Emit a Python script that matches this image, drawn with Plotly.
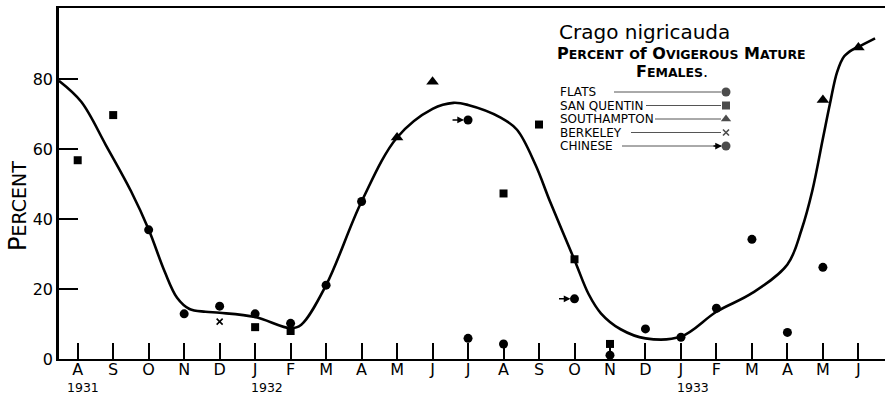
import plotly.graph_objects as go

# ---------------- data ----------------
months = ["A", "S", "O", "N", "D", "J", "F", "M", "A", "M", "J", "J",
          "A", "S", "O", "N", "D", "J", "F", "M", "A", "M", "J"]
month_idx = list(range(len(months)))
year_pos = [0, 5, 17]
year_text = ["1931", "1932", "1933"]

flats_x = [2, 3, 4, 5, 6, 7, 8, 11, 12, 15, 16, 17, 18, 19, 20, 21]
flats_y = [36.9, 12.9, 15.1, 12.9, 10.2, 21.1, 45.0, 5.9, 4.3, 1.1, 8.6, 6.2, 14.5, 34.2, 7.6, 26.2]

sanq_x = [0, 1, 5, 6, 12, 13, 14, 15]
sanq_y = [56.8, 69.7, 9.1, 8.0, 47.3, 67.0, 28.5, 4.3]

south_x = [9, 10, 21, 22]
south_y = [63.3, 79.2, 74.0, 89.0]

berk_x = [4]
berk_y = [10.7]

chin_x = [11, 14]
chin_y = [68.3, 17.2]

# hand-drawn fitted curve (month index, percent)
curve_x = [-0.53, 0.1, 0.8, 1.5, 2.0, 2.45, 2.8, 3.15, 3.6, 4.0, 5.0, 6.0, 6.3, 7.0, 8.0, 9.0,
           10.0, 10.59, 11.0, 11.92, 12.38, 12.9, 13.31, 14.0, 14.4, 14.75, 15.3, 16.0, 17.0,
           18.0, 19.0, 20.0, 20.4, 20.7, 21.0, 21.2, 21.4, 21.6, 21.85, 22.0, 22.47]
curve_y = [79.5, 73.5, 61.0, 48.0, 37.0, 25.0, 17.5, 14.3, 13.5, 13.2, 12.0, 8.8, 9.8, 21.1, 45.0, 63.3,
           71.5, 73.2, 72.6, 69.0, 65.5, 55.5, 45.0, 28.3, 18.5, 13.0, 8.5, 5.9, 6.4,
           13.5, 18.8, 27.0, 37.0, 48.0, 63.0, 73.0, 82.0, 86.5, 88.5, 89.2, 91.6]

legend_names = ["FLATS", "SAN QUENTIN", "SOUTHAMPTON", "BERKELEY", "CHINESE"]

# ---------------- figure ----------------
FONT = "DejaVu Sans"
W, H = 885, 395
L, R, T, B = 59, 0, 8, 36

fig = go.Figure()

fig.add_trace(go.Scatter(x=curve_x, y=curve_y, mode="lines",
                         line=dict(color="black", width=2.6, shape="spline", smoothing=1.0),
                         hoverinfo="skip", cliponaxis=False))

fig.add_trace(go.Scatter(x=flats_x, y=flats_y, mode="markers", name="FLATS",
                         marker=dict(symbol="circle", size=9, color="black"), cliponaxis=False))
fig.add_trace(go.Scatter(x=sanq_x, y=sanq_y, mode="markers", name="SAN QUENTIN",
                         marker=dict(symbol="square", size=8, color="black"), cliponaxis=False))
fig.add_trace(go.Scatter(x=south_x, y=south_y, mode="markers", name="SOUTHAMPTON",
                         marker=dict(symbol="triangle-up", size=11, color="black"), cliponaxis=False))
fig.add_trace(go.Scatter(x=berk_x, y=berk_y, mode="markers", name="BERKELEY",
                         marker=dict(symbol="x-thin", size=6, color="black",
                                     line=dict(color="black", width=1.6)), cliponaxis=False))
fig.add_trace(go.Scatter(x=chin_x, y=chin_y, mode="markers", name="CHINESE",
                         marker=dict(symbol="circle", size=9, color="black"), cliponaxis=False))

annotations = []
for cx, cy in zip(chin_x, chin_y):
    annotations.append(dict(x=cx, y=cy, xref="x", yref="y", ax=-17, ay=0, text="",
                            showarrow=True, arrowhead=2, arrowsize=0.9, arrowwidth=1.5,
                            arrowcolor="black", standoff=4))

for yp, yt in zip(year_pos, year_text):
    annotations.append(dict(x=yp, y=0, xref="x", yref="paper", text=yt, showarrow=False,
                            yanchor="middle", yshift=-28, xshift=12 if yp else 5,
                            borderpad=0,
                            font=dict(family=FONT, size=12.5, color="black")))

# y axis title
annotations.append(dict(x=(18 - L) / (W - L - R), y=(H - B - 206) / (H - B - T),
                        xref="paper", yref="paper", xanchor="center", yanchor="middle",
                        text="P<span style='font-size:19px'>ERCENT</span>",
                        textangle=-90, showarrow=False,
                        font=dict(family=FONT, size=24, color="black")))

# title block (overlay pixel axes)
annotations.append(dict(x=644, y=32, xref="x2", yref="y2", text="Crago nigricauda",
                        showarrow=False, borderpad=0,
                        font=dict(family=FONT, size=20, color="black")))
sc = "<span style='font-size:12.5px'>%s</span>"
line2 = "P" + sc % "ERCENT" + " " + sc % "O" + "f " + "O" + sc % "VIGEROUS" + " M" + sc % "ATURE"
annotations.append(dict(x=681, y=53, xref="x2", yref="y2", text="<b>" + line2 + "</b>",
                        showarrow=False, borderpad=0,
                        font=dict(family=FONT, size=16, color="black")))
annotations.append(dict(x=672, y=71, xref="x2", yref="y2",
                        text="<b>F" + sc % "EMALES" + "</b>.",
                        showarrow=False, borderpad=0,
                        font=dict(family=FONT, size=16, color="black")))

# legend rows
leg_y = [92, 105.5, 119, 132.5, 146]
leg_line_start = [614, 646, 655, 631, 622]
leg_symbols = ["circle", "square", "triangle-up", "x-thin", "circle"]
leg_sizes = [9, 8, 9, 6, 9]
shapes = []
for name, ly, ls in zip(legend_names, leg_y, leg_line_start):
    annotations.append(dict(x=559, y=ly, xref="x2", yref="y2", text=name, xanchor="left",
                            showarrow=False, borderpad=0,
                            font=dict(family=FONT, size=12, color="black")))
    shapes.append(dict(type="line", xref="x2", yref="y2", x0=ls, x1=721, y0=ly, y1=ly,
                       line=dict(color="#555", width=1)))
fig.add_trace(go.Scatter(x=[726] * 5, y=leg_y, xaxis="x2", yaxis="y2", mode="markers",
                         marker=dict(symbol=leg_symbols, size=leg_sizes, color="black",
                                     line=dict(color="black", width=[0, 0, 0, 1.6, 0])),
                         hoverinfo="skip", cliponaxis=False))
annotations.append(dict(x=726, y=leg_y[4], xref="x2", yref="y2", ax=-14, ay=0, text="",
                        showarrow=True, arrowhead=2, arrowsize=0.9, arrowwidth=1.5,
                        arrowcolor="black", standoff=4))

fig.update_layout(
    width=W, height=H,
    margin=dict(l=L, r=R, t=T, b=B),
    paper_bgcolor="white", plot_bgcolor="white",
    showlegend=False,
    xaxis=dict(range=[-0.527, 22.75], tickvals=month_idx, ticktext=months,
               ticks="inside", ticklen=16, tickwidth=1.5, tickcolor="black",
               showline=True, linecolor="black", linewidth=2, mirror=True,
               showgrid=False, zeroline=False, ticklabelstandoff=-5,
               tickfont=dict(family=FONT, size=16, color="black")),
    yaxis=dict(range=[0, 100.3], tickvals=[0, 20, 40, 60, 80],
               ticks="inside", ticklen=19, tickwidth=1.5, tickcolor="black",
               showline=True, linecolor="black", linewidth=2.5,
               showgrid=False, zeroline=False,
               tickfont=dict(family=FONT, size=16, color="black")),
    xaxis2=dict(range=[L, W - R], overlaying="x", visible=False, fixedrange=True),
    yaxis2=dict(range=[H - B, T], overlaying="y", visible=False, fixedrange=True),
    annotations=annotations,
    shapes=shapes,
)

fig.write_html("out.html")
